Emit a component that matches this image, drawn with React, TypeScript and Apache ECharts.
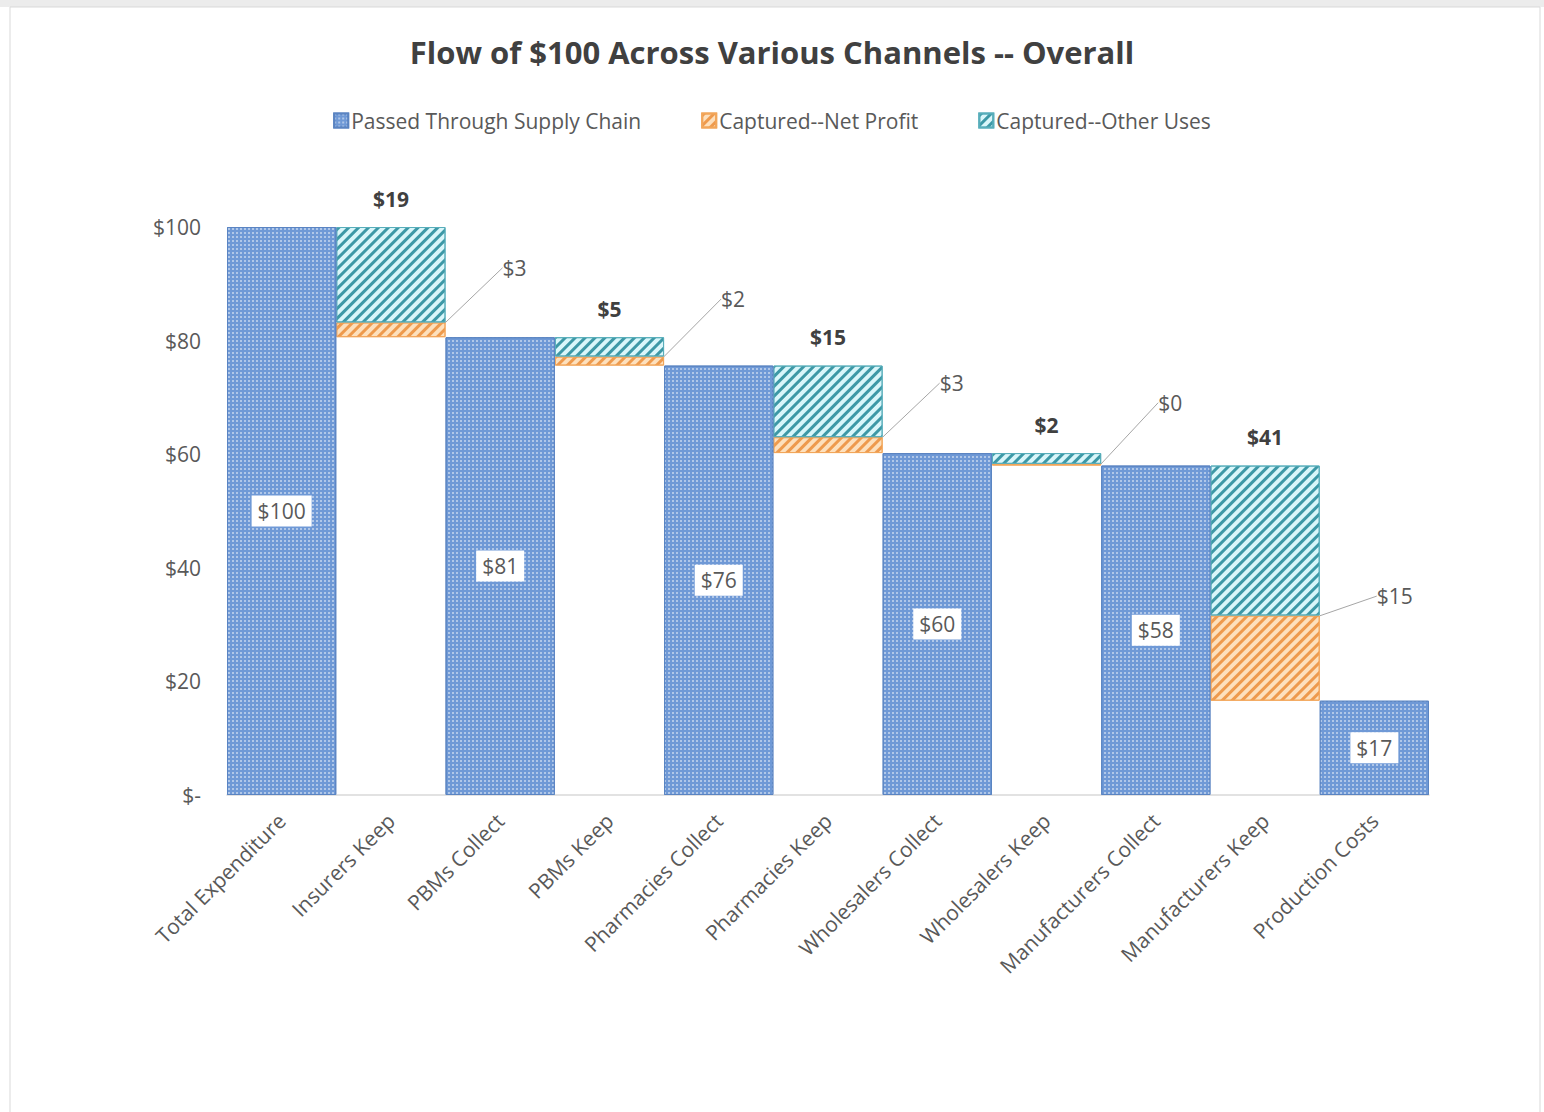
import React, { useEffect, useRef } from "react";
import * as echarts from "echarts";

const categories = [
  "Total Expenditure",
  "Insurers Keep",
  "PBMs Collect",
  "PBMs Keep",
  "Pharmacies Collect",
  "Pharmacies Keep",
  "Wholesalers Collect",
  "Wholesalers Keep",
  "Manufacturers Collect",
  "Manufacturers Keep",
  "Production Costs",
];
const passedThrough = [100, "-", 80.6, "-", 75.6, "-", 60.2, "-", 58, "-", 16.6];
const baseOffset = ["-", 80.6, "-", 75.6, "-", 60.2, "-", 58, "-", 16.6, "-"];
const netProfit = ["-", 2.6, "-", 1.6, "-", 2.8, "-", 0.3, "-", 15.0, "-"];
const otherUses = ["-", 16.8, "-", 3.4, "-", 12.6, "-", 1.9, "-", 26.4, "-"];
const yTicks = [0, 20, 40, 60, 80, 100];

const FONT = "'Open Sans', 'Liberation Sans', sans-serif";
const GREY = "#595959";

export default function App() {
  const ref = useRef<HTMLDivElement>(null);
  useEffect(() => {
    if (!ref.current) return;
    const chart = echarts.init(ref.current, null, { renderer: "svg" });
    const fmt = (v: number) => "$" + Math.round(v);
    chart.setOption({
      animation: false,
      backgroundColor: "#ffffff",
      textStyle: { fontFamily: FONT },
      title: {
        text: "Flow of $100 Across Various Channels -- Overall",
        left: "center",
        top: 31,
        textStyle: { fontFamily: FONT, fontSize: 31, fontWeight: "bold", color: "#404040" },
      },
      legend: {
        top: 105,
        left: "center",
        itemGap: 60,
        itemWidth: 14,
        itemHeight: 14,
        icon: "rect",
        data: ["Passed Through Supply Chain", "Captured--Net Profit", "Captured--Other Uses"],
        textStyle: { fontFamily: FONT, fontSize: 21, color: GREY, padding: [0, 0, 0, -2] },
      },
      graphic: [
        { type: "rect", shape: { x: 0, y: 0, width: 1544, height: 7 }, style: { fill: "#ececec" }, silent: true },
        { type: "rect", shape: { x: 10, y: 7, width: 1530, height: 1110 }, style: { fill: "none", stroke: "#d9d9d9", lineWidth: 1 }, silent: true },
      ],
      grid: { left: 227, right: 115, top: 227, bottom: 317 },
      xAxis: {
        type: "category",
        data: categories,
        axisLine: { lineStyle: { color: "#d9d9d9", width: 1.5 } },
        axisTick: { show: false },
        axisLabel: { rotate: 45, interval: 0, fontSize: 21, color: GREY, margin: 22, fontFamily: FONT },
      },
      yAxis: {
        type: "value",
        min: yTicks[0],
        max: yTicks[yTicks.length - 1],
        interval: 20,
        splitLine: { show: false },
        axisLine: { show: false },
        axisTick: { show: false },
        axisLabel: {
          fontSize: 21,
          color: GREY,
          margin: 26,
          fontFamily: FONT,
          formatter: (v: number) => (v === 0 ? "$-" : "$" + v),
        },
      },
      series: [
        {
          name: "base",
          type: "bar",
          stack: "flow",
          barCategoryGap: "0%",
          data: baseOffset,
          itemStyle: { color: "rgba(255,255,255,0)" },
          silent: true,
          label: { show: false },
        },
        {
          name: "Captured--Net Profit",
          type: "bar",
          stack: "flow",
          data: netProfit,
          itemStyle: {
            color: "#fde0bd",
            borderColor: "#f2a65a",
            borderWidth: 1,
            decal: {
              symbol: "rect",
              symbolSize: 1,
              dashArrayX: [1, 0],
              dashArrayY: [3, 4],
              rotation: -Math.PI / 4,
              color: "#ee9a4d",
            },
          },
          label: {
            show: true,
            position: "right",
            fontSize: 21,
            color: GREY,
            fontFamily: FONT,
            formatter: (p: any) => fmt(p.value),
          },
          labelLayout: { dx: 52, dy: -62 },
          labelLine: { show: true, lineStyle: { color: "#a6a6a6", width: 1 } },
        },
        {
          name: "Captured--Other Uses",
          type: "bar",
          stack: "flow",
          data: otherUses,
          itemStyle: {
            color: "#d9f6fa",
            borderColor: "#58aebb",
            borderWidth: 1,
            decal: {
              symbol: "rect",
              symbolSize: 1,
              dashArrayX: [1, 0],
              dashArrayY: [3, 4],
              rotation: -Math.PI / 4,
              color: "#3d98a6",
            },
          },
          label: {
            show: true,
            position: "top",
            distance: 18,
            fontSize: 21,
            fontWeight: "bold",
            color: "#404040",
            fontFamily: FONT,
            formatter: (p: any) => fmt((netProfit[p.dataIndex] as number) + (otherUses[p.dataIndex] as number)),
          },
        },
        {
          name: "Passed Through Supply Chain",
          type: "bar",
          stack: "flow",
          data: passedThrough,
          itemStyle: {
            color: "#6f99d6",
            borderColor: "#5a84c2",
            borderWidth: 1,
            decal: {
              symbol: "rect",
              symbolSize: 1,
              dashArrayX: [2, 2],
              dashArrayY: [2, 2],
              color: "rgba(255,255,255,0.45)",
            },
          },
          label: {
            show: true,
            position: "inside",
            fontSize: 21,
            color: GREY,
            fontFamily: FONT,
            backgroundColor: "#ffffff",
            padding: [5, 6],
            formatter: (p: any) => fmt(p.value),
          },
        },
      ],
    });
    return () => chart.dispose();
  }, []);
  return (
    <div
      ref={ref}
      style={{ position: "fixed", left: 0, top: 0, width: 1544, height: 1112 }}
    />
  );
}
